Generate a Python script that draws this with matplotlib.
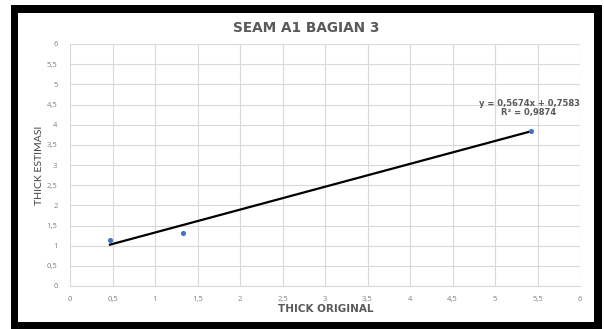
import matplotlib
matplotlib.use("Agg")
import matplotlib.pyplot as plt
from matplotlib.patches import Rectangle
from matplotlib.ticker import MultipleLocator, FuncFormatter
import numpy as np

plt.rcParams['font.family'] = ['Open Sans', 'DejaVu Sans']
BOLD_FONT = ['DejaVu Sans']

# Measured seam thickness (original vs. estimated)
thick_original = [0.47, 1.33, 5.42]
thick_estimasi = [1.15, 1.32, 3.84]

# Linear trendline parameters
slope = 0.5674
intercept = 0.7583
r_squared = 0.9874

title = "SEAM A1 BAGIAN 3"
x_label = "THICK ORIGINAL"
y_label = "THICK ESTIMASI"

W, H = 604, 329
fig = plt.figure(figsize=(W / 100, H / 100), dpi=100)
fig.patch.set_facecolor("white")

# Thick black frame around the chart
fig.add_artist(Rectangle((11 / W, 0), (602 - 11) / W, 1 - 5 / H,
                         transform=fig.transFigure, facecolor="black",
                         edgecolor="none", zorder=-2))
fig.add_artist(Rectangle((18 / W, 1 - 322 / H), (594 - 18) / W, (322 - 13) / H,
                         transform=fig.transFigure, facecolor="white",
                         edgecolor="none", zorder=-1))

left, right = 70 / W, 580 / W
bottom, top = 1 - 286 / H, 1 - 44 / H
ax = fig.add_axes([left, bottom, right - left, top - bottom])
ax.set_facecolor("none")

ax.set_xlim(0, 6)
ax.set_ylim(0, 6)
ax.xaxis.set_major_locator(MultipleLocator(0.5))
ax.yaxis.set_major_locator(MultipleLocator(0.5))
comma = FuncFormatter(lambda v, p: ("%g" % v).replace(".", ","))
ax.xaxis.set_major_formatter(comma)
ax.yaxis.set_major_formatter(comma)

ax.grid(True, color="#d9d9d9", linewidth=0.8)
ax.set_axisbelow(True)
for s in ["top", "right", "left"]:
    ax.spines[s].set_visible(False)
ax.spines["bottom"].set_color("#d9d9d9")
ax.spines["bottom"].set_linewidth(0.8)
ax.tick_params(axis="both", length=0, labelsize=5.5, labelcolor="#7f7f7f")
ax.tick_params(axis="x", pad=7)
ax.tick_params(axis="y", pad=9)

# Data points
ax.scatter(thick_original, thick_estimasi, s=7, color="#4472c4", zorder=3)

# Trendline over the data range
xs = np.array([min(thick_original), max(thick_original)])
ax.plot(xs, slope * xs + intercept, color="black", linewidth=1.6, zorder=2)

eq = "y = %sx + %s" % (("%.4f" % slope).replace(".", ","),
                       ("%.4f" % intercept).replace(".", ","))
r2 = "R² = %s" % ("%.4f" % r_squared).replace(".", ",")
fig.text(529 / W, 1 - 108 / H, eq + "\n" + r2, ha="center", va="center",
         fontsize=6, fontweight="bold", color="#595959", linespacing=1.05,
         family=BOLD_FONT)

fig.text(306 / W, 1 - 28 / H, title, ha="center", va="center",
         fontsize=9.8, fontweight="bold", color="#595959", family=BOLD_FONT)
fig.text(326 / W, 1 - 308.5 / H, x_label, ha="center", va="center",
         fontsize=7.5, fontweight="bold", color="#595959", family=BOLD_FONT)
ax.set_ylabel(y_label, fontsize=7.5, color="#404040", labelpad=2,
              family=['Lato', 'DejaVu Sans'])

fig.savefig("out.png", dpi=100)
